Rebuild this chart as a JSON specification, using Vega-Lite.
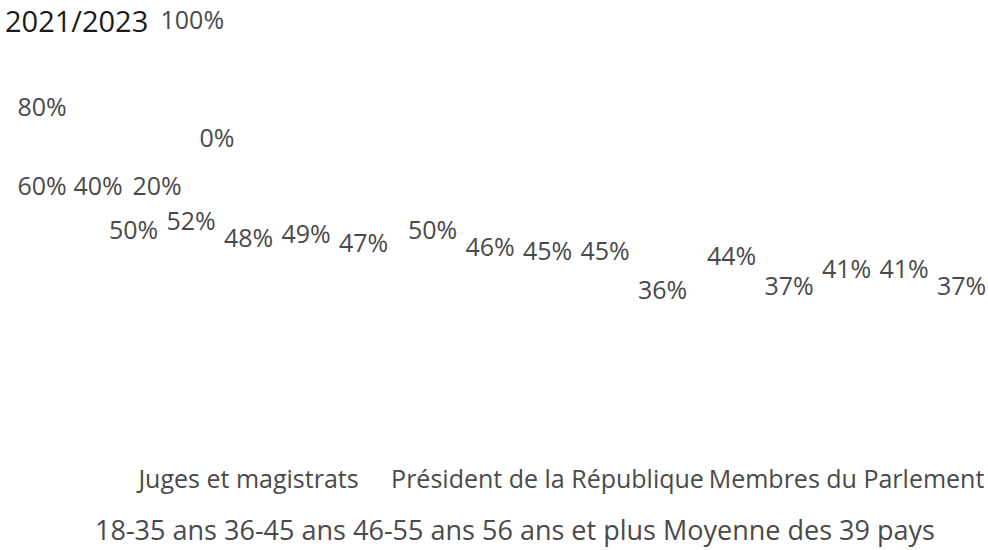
{
  "$schema": "https://vega.github.io/schema/vega-lite/v6.json",
  "width": 897,
  "height": 435,
  "padding": {"left": 5, "top": 8, "right": 0, "bottom": 6},
  "background": "white",
  "config": {"view": {"stroke": null}},
  "title": {
    "text": "2021/2023",
    "anchor": "start",
    "frame": "bounds",
    "font": "Open Sans",
    "fontSize": 29,
    "fontWeight": "normal",
    "color": "#1a1a1a",
    "offset": -30,
    "dx": -12
  },
  "data": {
    "values": [
      {"institution": "Juges et magistrats", "age": "18-35 ans", "value": 0.50},
      {"institution": "Juges et magistrats", "age": "36-45 ans", "value": 0.52},
      {"institution": "Juges et magistrats", "age": "46-55 ans", "value": 0.48},
      {"institution": "Juges et magistrats", "age": "56 ans et plus", "value": 0.49},
      {"institution": "Juges et magistrats", "age": "Moyenne des 39 pays", "value": 0.47},
      {"institution": "Président de la République", "age": "18-35 ans", "value": 0.50},
      {"institution": "Président de la République", "age": "36-45 ans", "value": 0.46},
      {"institution": "Président de la République", "age": "46-55 ans", "value": 0.45},
      {"institution": "Président de la République", "age": "56 ans et plus", "value": 0.45},
      {"institution": "Président de la République", "age": "Moyenne des 39 pays", "value": 0.36},
      {"institution": "Membres du Parlement", "age": "18-35 ans", "value": 0.44},
      {"institution": "Membres du Parlement", "age": "36-45 ans", "value": 0.37},
      {"institution": "Membres du Parlement", "age": "46-55 ans", "value": 0.41},
      {"institution": "Membres du Parlement", "age": "56 ans et plus", "value": 0.41},
      {"institution": "Membres du Parlement", "age": "Moyenne des 39 pays", "value": 0.37}
    ]
  },
  "mark": {"type": "text", "font": "Open Sans", "fontSize": 25, "baseline": "middle", "dy": -5},
  "encoding": {
    "x": {
      "field": "institution",
      "type": "nominal",
      "sort": ["Juges et magistrats", "Président de la République", "Membres du Parlement"],
      "scale": {"paddingInner": 0, "paddingOuter": 0},
      "axis": {
        "title": null,
        "domain": false,
        "ticks": false,
        "tickSize": 0,
        "grid": false,
        "labelAngle": 0,
        "labelPadding": 14,
        "labelFont": "Open Sans",
        "labelFontSize": 25,
        "labelColor": "#4a4a4a",
        "labelLimit": 0,
        "labelOverlap": false,
        "labelBaseline": "top"
      }
    },
    "xOffset": {
      "field": "age",
      "type": "nominal",
      "sort": ["18-35 ans", "36-45 ans", "46-55 ans", "56 ans et plus", "Moyenne des 39 pays"],
      "scale": {"paddingOuter": 0.6}
    },
    "y": {
      "field": "value",
      "type": "quantitative",
      "scale": {"domain": [0, 1]},
      "axis": {
        "title": null,
        "values": [0, 0.2, 0.4, 0.6, 0.8, 1],
        "format": ".0%",
        "domain": false,
        "ticks": false,
        "tickSize": 0,
        "grid": false,
        "labelAlign": "left",
        "labelBaseline": "middle",
        "labelPadding": {
          "condition": [
            {"test": "datum.value > 0.9", "value": -61},
            {"test": "datum.value > 0.5", "value": 82},
            {"test": "datum.value > 0.3", "value": 26},
            {"test": "datum.value > 0.1", "value": -33}
          ],
          "value": -100
        },
        "labelOffset": {
          "condition": [
            {"test": "datum.value > 0.7", "value": 2},
            {"test": "datum.value > 0.5", "value": -6},
            {"test": "datum.value > 0.3", "value": -93},
            {"test": "datum.value > 0.1", "value": -180}
          ],
          "value": -315
        },
        "labelFont": "Open Sans",
        "labelFontSize": 25,
        "labelColor": "#4a4a4a",
        "labelOverlap": false
      }
    },
    "text": {"field": "value", "type": "quantitative", "format": ".0%"},
    "color": {
      "field": "age",
      "type": "nominal",
      "sort": ["18-35 ans", "36-45 ans", "46-55 ans", "56 ans et plus", "Moyenne des 39 pays"],
      "scale": {"range": ["#4a4a4a", "#4a4a4a", "#4a4a4a", "#4a4a4a", "#4a4a4a"]},
      "legend": {
        "title": null,
        "orient": "none",
        "legendX": -4,
        "legendY": 500,
        "direction": "horizontal",
        "symbolType": "circle",
        "symbolSize": 0,
        "symbolStrokeWidth": 0,
        "symbolOpacity": 0,
        "labelOffset": -27,
        "columnPadding": 7,
        "labelFont": "Open Sans",
        "labelFontSize": 27,
        "labelColor": "#4a4a4a",
        "labelLimit": 0
      }
    }
  }
}
